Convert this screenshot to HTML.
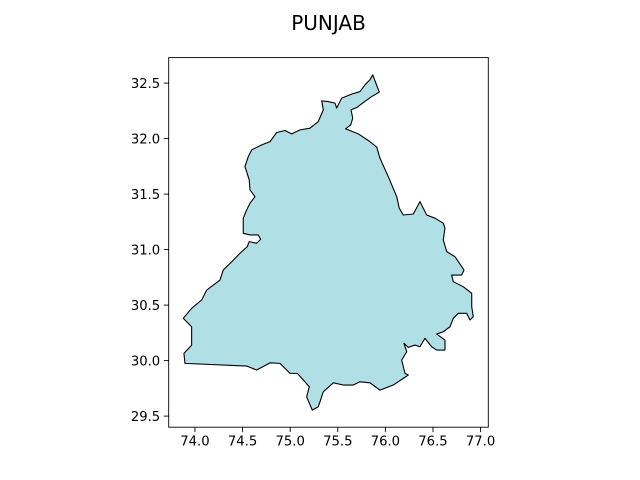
<!DOCTYPE html>
<html><head><meta charset="utf-8"><style>
html,body{margin:0;padding:0;background:#fff;}
svg{display:block;font-family:"DejaVu Sans","Liberation Sans",sans-serif;}
</style></head><body>
<svg id="chart" width="640" height="480" viewBox="0 0 640 480">
<rect width="640" height="480" fill="#fff"/>
<text x="328.5" y="30" text-anchor="middle" font-size="20">PUNJAB</text>
<g id="shape"></g>
<g id="axes"></g>
</svg>
<script>
const lons = [75.867,75.936,75.856,75.768,75.699,75.639,75.657,75.636,75.583,75.715,75.838,75.909,75.943,76.030,76.119,76.146,76.188,76.293,76.335,76.363,76.434,76.521,76.608,76.626,76.608,76.644,76.731,76.826,76.801,76.696,76.713,76.818,76.907,76.907,76.923,76.889,76.854,76.766,76.713,76.679,76.608,76.539,76.626,76.626,76.539,76.486,76.416,76.363,76.311,76.241,76.195,76.224,76.171,76.206,76.241,76.188,76.083,75.943,75.838,75.733,75.663,75.558,75.453,75.348,75.295,75.232,75.173,75.201,75.138,75.075,74.998,74.893,74.788,74.648,74.543,73.895,73.884,73.965,73.965,73.877,73.965,74.070,74.123,74.263,74.297,74.386,74.473,74.549,74.570,74.648,74.690,74.665,74.578,74.507,74.507,74.543,74.578,74.630,74.578,74.570,74.525,74.560,74.596,74.701,74.788,74.858,74.945,75.016,75.103,75.208,75.295,75.348,75.331,75.400,75.471,75.488,75.541,75.646,75.733,75.786,75.838];
const lats = [32.575,32.419,32.379,32.325,32.280,32.259,32.184,32.124,32.088,32.043,31.973,31.923,31.824,31.658,31.477,31.373,31.312,31.321,31.387,31.432,31.312,31.283,31.238,31.193,31.087,30.982,30.936,30.816,30.771,30.771,30.711,30.666,30.606,30.486,30.395,30.366,30.426,30.426,30.381,30.305,30.260,30.239,30.185,30.095,30.095,30.125,30.201,30.125,30.140,30.119,30.156,30.080,30.005,29.885,29.870,29.840,29.780,29.734,29.800,29.809,29.780,29.780,29.800,29.719,29.584,29.554,29.674,29.764,29.825,29.885,29.885,29.975,29.980,29.915,29.951,29.975,30.065,30.140,30.305,30.381,30.471,30.546,30.636,30.726,30.816,30.891,30.967,31.027,31.072,31.057,31.093,31.132,31.132,31.147,31.283,31.358,31.418,31.477,31.538,31.628,31.748,31.838,31.899,31.944,31.973,32.055,32.073,32.043,32.079,32.094,32.154,32.259,32.340,32.334,32.320,32.275,32.365,32.401,32.424,32.485,32.530];
const xTicks = [74.0,74.5,75.0,75.5,76.0,76.5,77.0];
const yTicks = [29.5,30.0,30.5,31.0,31.5,32.0,32.5];
const xTickLabels = ["74.0","74.5","75.0","75.5","76.0","76.5","77.0"];
const yTickLabels = ["29.5","30.0","30.5","31.0","31.5","32.0","32.5"];

const NS='http://www.w3.org/2000/svg';
const L=168.7,R=488.3,T=57.6,B=427.2;
const xMin=73.724,xMax=77.081,yMin=29.40,yMax=32.73;
function X(v){return L+(v-xMin)/(xMax-xMin)*(R-L);}
function Y(v){return B-(v-yMin)/(yMax-yMin)*(B-T);}
function mk(tag,attrs,parent){const e=document.createElementNS(NS,tag);for(const k in attrs)e.setAttribute(k,attrs[k]);parent.appendChild(e);return e;}

const shape=document.getElementById('shape');
let d='';
for(let i=0;i<lons.length;i++){d+=(i?'L':'M')+X(lons[i]).toFixed(2)+','+Y(lats[i]).toFixed(2);}
d+='Z';
const poly=mk('path',{d:d,fill:'#b0dfe5',stroke:'#000','stroke-width':'1.1','stroke-linejoin':'round'},shape);



const ax=document.getElementById('axes');
const frame=mk('rect',{x:L,y:T,width:R-L,height:B-T,fill:'none',stroke:'#000','stroke-width':'0.9'},ax);


xTicks.forEach((v,i)=>{
  const x=X(v);
  const t=mk('line',{x1:x,x2:x,y1:B,y2:B+4.9,stroke:'#000','stroke-width':'0.9'},ax);
  
  
  const s=mk('text',{x:x,y:B+18.5,'text-anchor':'middle','font-size':'13.2'},ax);
  s.textContent=xTickLabels[i];
  
  
});
yTicks.forEach((v,i)=>{
  const y=Y(v);
  const t=mk('line',{x1:L-4.9,x2:L,y1:y,y2:y,stroke:'#000','stroke-width':'0.9'},ax);
  
  
  const s=mk('text',{x:L-8.5,y:y+4.8,'text-anchor':'end','font-size':'13.2'},ax);
  s.textContent=yTickLabels[i];
  
  
});
</script>
</body></html>
